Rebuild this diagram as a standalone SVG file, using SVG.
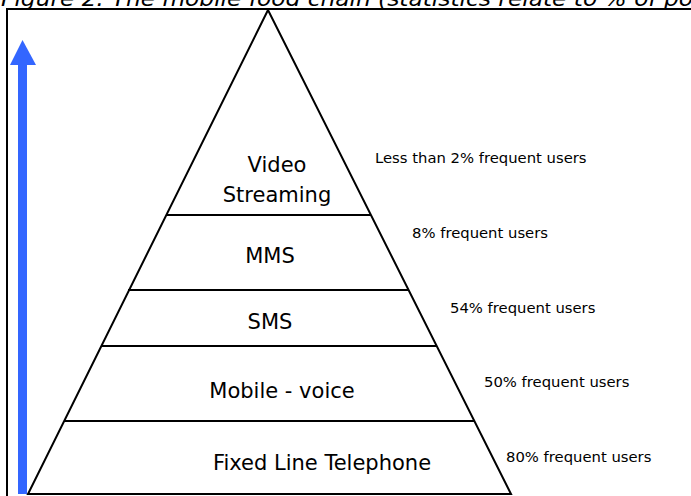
<svg xmlns="http://www.w3.org/2000/svg" width="691" height="496" viewBox="0 0 691 496">
<style>
.ln{stroke:#000;stroke-width:2;fill:none}
.lbl{font-family:"DejaVu Sans",Verdana,sans-serif;font-size:21px;fill:#000;text-anchor:middle}
.stat{font-family:"DejaVu Sans",Verdana,sans-serif;font-size:14.8px;fill:#000}
.title{font-family:"DejaVu Sans",Verdana,sans-serif;font-size:21px;font-style:italic;fill:#000}
</style>
<rect width="691" height="496" fill="#fff"/>
<text class="title" x="1" y="6" textLength="692" lengthAdjust="spacingAndGlyphs">Figure 2: The mobile food chain (statistics relate to % of po</text>
<rect x="7" y="9" width="700" height="500" class="ln"/>
<g id="arrow">
<rect x="18" y="62" width="9" height="432" fill="#3366ff"/>
<polygon points="22.5,40 10,65 36,65" fill="#3366ff"/>
</g>
<g id="pyramid">
<polygon points="268,10 28,494 511,494" class="ln"/>
</g>
<g id="connectors">
<line x1="166" y1="215" x2="371" y2="215" class="ln"/>
<line x1="128" y1="290" x2="409" y2="290" class="ln"/>
<line x1="101" y1="346" x2="437" y2="346" class="ln"/>
<line x1="64" y1="421" x2="474" y2="421" class="ln"/>
</g>
<g id="video"><text class="lbl" x="277" y="172">Video</text><text class="lbl" x="277" y="202">Streaming</text></g>
<g id="mms"><text class="lbl" x="270" y="263">MMS</text></g>
<g id="sms"><text class="lbl" x="270" y="329">SMS</text></g>
<g id="voice"><text class="lbl" x="282" y="398">Mobile - voice</text></g>
<g id="fixed"><text class="lbl" x="322" y="470">Fixed Line Telephone</text></g>
<g id="stats">
<text class="stat" x="375" y="163">Less than 2% frequent users</text>
<text class="stat" x="412" y="238">8% frequent users</text>
<text class="stat" x="450" y="313">54% frequent users</text>
<text class="stat" x="484" y="387">50% frequent users</text>
<text class="stat" x="506" y="462">80% frequent users</text>
</g>
</svg>
